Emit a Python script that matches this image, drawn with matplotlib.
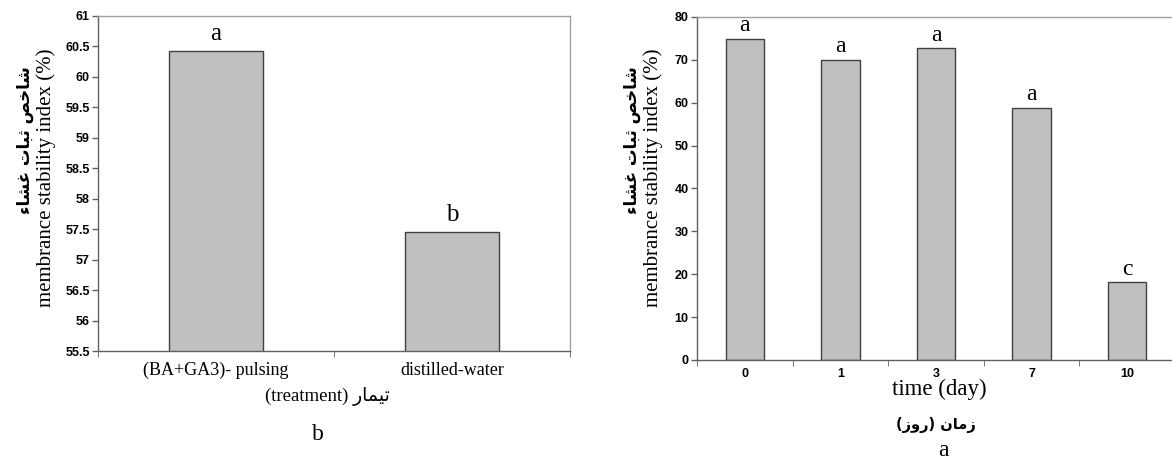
import numpy as np
import matplotlib.pyplot as plt

# panel b: treatment comparison
treatments = ['(BA+GA3)- pulsing', 'distilled-water']
msi_treat = [60.43, 57.45]
letters_treat = ['a', 'b']

# panel a: time course
days = ['0', '1', '3', '7', '10']
msi_days = [74.9, 70.0, 72.7, 58.8, 18.1]
letters_days = ['a', 'a', 'a', 'a', 'c']

# Persian text written in presentation forms, visual order (matplotlib has no shaping)
fa_msi = '\ufe80\ufe8e\ufeb8\ufecf \ufe95\ufe8e\ufe92\ufe9b \ufeba\ufea7\ufe8e\ufeb7'
fa_treat = '\ufead\ufe8e\ufee4\ufef4\ufe97'
fa_time = '(\ufeaf\ufeed\ufead) \ufee5\ufe8e\ufee3\ufeaf'

serif = ['Liberation Serif', 'DejaVu Serif']
sans = ['Liberation Sans Narrow', 'Liberation Sans', 'DejaVu Sans']

fig = plt.figure(figsize=(11.72, 4.59), dpi=100)
W, H = 1172, 459

def style_axes(ax):
    for s in ['top', 'right']:
        ax.spines[s].set_color('#a0a0a0')
        ax.spines[s].set_linewidth(1.0)
    for s in ['left', 'bottom']:
        ax.spines[s].set_color('#606060')
        ax.spines[s].set_linewidth(1.0)
    ax.tick_params(axis='y', direction='out', length=4, width=1, color='#606060',
                   labelsize=9, pad=2)
    for lab in ax.get_yticklabels():
        lab.set_fontweight('bold')
        lab.set_family(sans)

# ---- left panel (b)
ax1 = fig.add_axes([98 / W, 1 - 351 / H, (570 - 98) / W, (351 - 16) / H])
x1 = np.arange(len(treatments))
ax1.bar(x1, msi_treat, width=0.4, color='#c0c0c0', edgecolor='#404040', linewidth=1)
ax1.set_xlim(-0.5, len(treatments) - 0.5)
ax1.set_ylim(55.5, 61)
ax1.set_yticks(np.arange(55.5, 61.01, 0.5))
ax1.set_yticklabels(['%g' % v for v in np.arange(55.5, 61.01, 0.5)])
ax1.set_xticks(x1)
ax1.set_xticklabels(treatments, family=serif, fontsize=13)
ax1.tick_params(axis='x', length=0, pad=8)
ax1.set_xticks(np.arange(-0.5, len(treatments)), minor=True)
ax1.tick_params(axis='x', which='minor', direction='out', length=4, color='#606060')
style_axes(ax1)
for xi, v, l in zip(x1, msi_treat, letters_treat):
    ax1.text(xi, v + 0.1, l, ha='center', va='bottom', family=serif, fontsize=18)

fig.text(25 / W, 1 - 140 / H, fa_msi, rotation=90, ha='center', va='center',
         family='DejaVu Sans', fontweight='bold', fontsize=12)
fig.text(46 / W, 1 - 178 / H, 'membrance stability index (%)', rotation=90,
         ha='center', va='center', family=serif, fontsize=15)
fig.text(327 / W, 1 - 397 / H, '(treatment) ' + fa_treat, ha='center', va='center',
         family=['Liberation Serif', 'DejaVu Sans'], fontsize=13.5)
fig.text(318 / W, 1 - 435 / H, 'b', ha='center', va='center', family=serif, fontsize=17)

# ---- right panel (a)
ax2 = fig.add_axes([697 / W, 1 - 360 / H, 478 / W, (360 - 17) / H])
x2 = np.arange(len(days))
ax2.bar(x2, msi_days, width=0.4, color='#c0c0c0', edgecolor='#404040', linewidth=1)
ax2.set_xlim(-0.5, len(days) - 0.5)
ax2.set_ylim(0, 80)
ax2.set_yticks(np.arange(0, 81, 10))
ax2.set_xticks(x2)
ax2.set_xticklabels(days, family=sans, fontweight='bold', fontsize=9)
ax2.tick_params(axis='x', length=0, pad=6)
ax2.set_xticks(np.arange(-0.5, len(days)), minor=True)
ax2.tick_params(axis='x', which='minor', direction='out', length=4, color='#606060')
style_axes(ax2)
for xi, v, l in zip(x2, msi_days, letters_days):
    ax2.text(xi, v + 0.6, l, ha='center', va='bottom', family=serif, fontsize=17)

fig.text(632 / W, 1 - 140 / H, fa_msi, rotation=90, ha='center', va='center',
         family='DejaVu Sans', fontweight='bold', fontsize=12)
fig.text(653 / W, 1 - 178 / H, 'membrance stability index (%)', rotation=90,
         ha='center', va='center', family=serif, fontsize=15)
fig.text(939 / W, 1 - 389 / H, 'time (day)', ha='center', va='center',
         family=serif, fontsize=16.5)
fig.text(936 / W, 1 - 425 / H, fa_time, ha='center', va='center',
         family='DejaVu Sans', fontweight='bold', fontsize=10.5)
fig.text(943 / W, 1 - 450 / H, 'a', ha='center', va='center', family=serif, fontsize=17)

fig.savefig('out.png', dpi=100)
